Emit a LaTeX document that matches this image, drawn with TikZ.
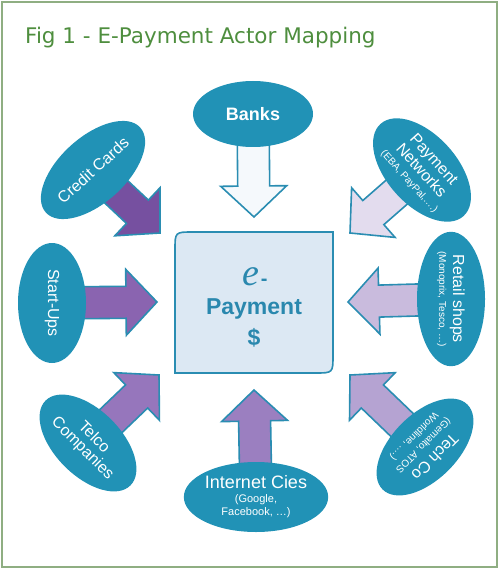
\documentclass[tikz,border=0pt]{standalone}
\usepackage{fontspec}
\setmainfont{Liberation Sans}
\newfontfamily\titlefont{DejaVu Sans}
\newfontfamily\efont{Liberation Serif}
\usetikzlibrary{calc,backgrounds,shapes.geometric}

\definecolor{actorblue}{HTML}{2192B6}
\definecolor{edgeblue}{HTML}{2A8DB2}
\definecolor{boxfill}{HTML}{DCE8F3}
\definecolor{boxtext}{HTML}{2A88AE}
\definecolor{titlegreen}{HTML}{4E8E3E}
\definecolor{framegreen}{HTML}{8FAE82}
\definecolor{purpleA}{HTML}{7650A0}
\definecolor{purpleB}{HTML}{8A64B0}
\definecolor{purpleC}{HTML}{9676BC}
\definecolor{purpleD}{HTML}{9B7FC0}
\definecolor{purpleE}{HTML}{B5A3D2}
\definecolor{purpleF}{HTML}{C9BBDD}
\definecolor{purpleG}{HTML}{E3DCEE}
\definecolor{paleblue}{HTML}{F5F9FC}

\tikzset{
  actor/.style={ellipse, fill=actorblue, text=white, inner sep=0pt,
    minimum width=120pt, minimum height=66pt, align=center,
    font=\fontsize{16}{18}\selectfont},
  actorsmall/.style={actor, font=\fontsize{10}{12}\selectfont},
  arrowline/.style={draw=edgeblue, line width=1.6pt, line join=miter},
  boxlabel/.style={text=boxtext, anchor=base, inner sep=0pt,
    font=\bfseries\fontsize{23}{23}\selectfont}
}

\newcommand{\actorbig}{\fontsize{16}{18}\selectfont}

% block arrow from actor #1 to tip #2, filled with #3
\newcommand{\actorarrow}[3]{%
  \coordinate (ab) at ($(#2)!31pt!(#1)$);
  \draw[arrowline, fill=#3]
    ($(#1)!16pt!90:(#2)$) -- ($(ab)!16pt!90:(#2)$) -- ($(ab)!33pt!90:(#2)$)
    -- (#2) -- ($(ab)!33pt!-90:(#2)$) -- ($(ab)!16pt!-90:(#2)$)
    -- ($(#1)!16pt!-90:(#2)$) -- cycle;
}

\begin{document}
\begin{tikzpicture}[x=1pt, y=-1pt]
  \useasboundingbox (0,0) rectangle (499,569);
  \draw[framegreen, line width=1.5pt] (2,2) rectangle (497,567);

  \node[anchor=base west, inner sep=0pt, text=titlegreen,
        font=\titlefont\fontsize{21.5}{24}\selectfont] (title) at (25,44)
        {Fig 1 - E-Payment Actor Mapping};

  % centre box
  \draw[edgeblue, fill=boxfill, line width=1.6pt]
    (175,373) -- (175,250) .. controls (175,232) .. (193,232) -- (333,232)
    -- (333,355) .. controls (333,373) .. (315,373) -- cycle;
  \node[boxlabel, font=\efont\itshape\fontsize{38}{38}\selectfont] (epayE) at (251,285) {e};
  \node[boxlabel, anchor=base west, font=\bfseries\fontsize{20}{20}\selectfont] (epayDash) at ([xshift=1pt]epayE.base east) {-};
  \node[boxlabel] (epayTxt) at (254,314) {Payment};
  \node[boxlabel] (epayDollar) at (254,345) {\$};

  % actors
  \node[actor, font=\bfseries\fontsize{18}{20}\selectfont] (banks) at (253,114) {Banks};
  \node[actor, rotate=42] (credit) at (93,170) {Credit Cards};
  \node[actorsmall, rotate=-48, minimum width=124pt, minimum height=70pt] (paynet) at (422,170)
    {{\actorbig Payment}\\[1pt] {\actorbig Networks}\\[2pt] (EBA, PayPal,\dots.)};
  \node[actor, rotate=-90, minimum height=68pt] (startups) at (52,303) {Start-Ups};
  \node[actorsmall, rotate=-90, minimum width=122pt, minimum height=68pt] (retail) at (451,299)
    {{\actorbig Retail shops}\\[2pt] (Monoprix, Tesco, \dots)};
  \node[actor, rotate=-45] (telco) at (88,443) {Telco\\[-2pt] Companies};
  \node[actorsmall, rotate=-135] (techco) at (425,447)
    {{\actorbig Tech Co}\\[2pt] (Gemalto, ATOS\\[1pt] Worldline, \dots.)};
  \node[actor, font=\fontsize{11}{13.5}\selectfont, minimum width=118pt, minimum height=70pt] (internet) at (256,497)
    {{\fontsize{18}{20}\selectfont Internet Cies}\\ (Google,\\ Facebook, \dots)};

  % arrow tips
  \coordinate (tipBanks) at (254,217);
  \coordinate (tipCredit) at (160,233);
  \coordinate (tipPaynet) at (350,233);
  \coordinate (tipStart) at (157,302);
  \coordinate (tipRetail) at (348,302);
  \coordinate (tipTelco) at (159,375);
  \coordinate (tipTech) at (350,375);
  \coordinate (tipInternet) at (254,390);

  \begin{scope}[on background layer]
    \actorarrow{banks}{tipBanks}{paleblue}
    \actorarrow{credit}{tipCredit}{purpleA}
    \actorarrow{paynet}{tipPaynet}{purpleG}
    \actorarrow{startups}{tipStart}{purpleB}
    \actorarrow{retail}{tipRetail}{purpleF}
    \actorarrow{telco}{tipTelco}{purpleC}
    \actorarrow{techco}{tipTech}{purpleE}
    \actorarrow{internet}{tipInternet}{purpleD}
  \end{scope}
\end{tikzpicture}
\end{document}
